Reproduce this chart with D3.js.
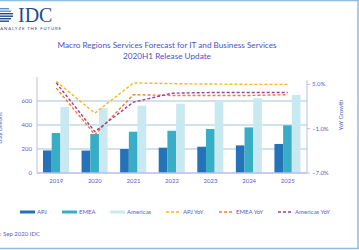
<!DOCTYPE html>
<html>
  <head>
    <meta charset="utf-8">
    <title>Macro Regions Services Forecast</title>
    <script src="https://cdn.jsdelivr.net/npm/d3@7/dist/d3.min.js"></script>
    <style>
      body { margin: 0; background: #fff; }
      svg { display: block; font-family: Lato, "Open Sans", sans-serif; }
      .tick-text { fill: #5b5bc8; font-size: 6px; }
    </style>
  </head>
  <body>
    <svg id="chart" width="359" height="250"></svg>
    <script>
    var years = ["2019", "2020", "2021", "2022", "2023", "2024", "2025"];
    var apj = [188, 187, 200, 211, 219, 230, 242];
    var emea = [333, 325, 344, 352, 367, 380, 397];
    var americas = [550, 540, 561, 577, 603, 622, 650];
    var apjYoY = [5.4, 1.1, 5.2, 5.1, 5.05, 5.0, 5.0];
    var emeaYoY = [4.5, -1.8, 3.6, 3.5, 3.5, 3.5, 3.6];
    var americasYoY = [5.2, -1.4, 2.6, 3.8, 3.9, 3.9, 3.9];
    var leftTicks = [0, 200, 400, 600];
    var rightTicks = [5, -1, -7];

    var barSeries = [
      {name: "APJ", values: apj, color: "#2472b8"},
      {name: "EMEA", values: emea, color: "#37adc6"},
      {name: "Americas", values: americas, color: "#c8e9f0"}
    ];
    var lineSeries = [
      {name: "APJ YoY", values: apjYoY, color: "#f6b91a"},
      {name: "EMEA YoY", values: emeaYoY, color: "#f07d32"},
      {name: "Americas YoY", values: americasYoY, color: "#9c3f9e"}
    ];

    var svg = d3.select("#chart");
    var textColor = "#5050c4";

    // frame
    svg.append("line").attr("x1", 0).attr("x2", 359).attr("y1", 0.5).attr("y2", 0.5)
      .attr("stroke", "#8dbde3").attr("stroke-width", 1.5);
    svg.append("line").attr("x1", 358).attr("x2", 358).attr("y1", 0).attr("y2", 249)
      .attr("stroke", "#8dbde3").attr("stroke-width", 1.5);
    svg.append("line").attr("x1", 0).attr("x2", 359).attr("y1", 248.5).attr("y2", 248.5)
      .attr("stroke", "#8dbde3").attr("stroke-width", 1.5);

    // logo
    var logo = svg.append("g");
    for (var k = 0; k < 6; k++) {
      logo.append("rect").attr("x", -4).attr("y", 8 + k * 2.5)
        .attr("width", 18 - Math.abs(k - 2.5) * 2).attr("height", 1.4)
        .attr("fill", k < 2 ? "#5f8fc8" : "#1e4b8a");
    }
    logo.append("text").attr("x", 18).attr("y", 22)
      .attr("font-family", "'Liberation Serif', serif").attr("font-size", 20)
      .attr("fill", "#1e4b8a").text("IDC");
    logo.append("text").attr("x", 62).attr("y", 30).attr("text-anchor", "end")
      .attr("font-size", 4.3).attr("letter-spacing", 0.9).attr("fill", "#1e4b8a")
      .text("ANALYZE THE FUTURE");

    // title
    svg.append("text").attr("x", 167).attr("y", 48).attr("text-anchor", "middle")
      .attr("font-size", 8.2).attr("fill", textColor)
      .text("Macro Regions Services Forecast for IT and Business Services");
    svg.append("text").attr("x", 167).attr("y", 59).attr("text-anchor", "middle")
      .attr("font-size", 8.2).attr("fill", textColor)
      .text("2020H1 Release Update");

    var plotLeft = 37, plotRight = 307, plotTop = 77, plotBottom = 173;

    var x0 = d3.scaleBand().domain(years).range([plotLeft, plotRight]).paddingInner(0).paddingOuter(0);
    var x1 = d3.scaleBand().domain(barSeries.map(function(d) { return d.name; }))
      .range([6, x0.bandwidth() - 6.5]).padding(0);
    var y = d3.scaleLinear().domain([0, 800]).range([plotBottom, plotTop]);
    var y2 = d3.scaleLinear().domain([-7, 6]).range([plotBottom, plotTop]);

    // gridlines
    svg.append("g").selectAll("line").data(leftTicks.slice(1)).enter().append("line")
      .attr("x1", plotLeft).attr("x2", plotRight)
      .attr("y1", function(d) { return y(d); }).attr("y2", function(d) { return y(d); })
      .attr("stroke", "#a8c3dc").attr("stroke-width", 1.2);

    // bars
    barSeries.forEach(function(s) {
      svg.append("g").selectAll("rect").data(s.values).enter().append("rect")
        .attr("x", function(d, i) { return x0(years[i]) + x1(s.name); })
        .attr("width", x1.bandwidth())
        .attr("y", function(d) { return y(d); })
        .attr("height", function(d) { return plotBottom - y(d); })
        .attr("fill", s.color);
    });

    // axes lines
    svg.append("line").attr("x1", plotLeft).attr("x2", plotLeft).attr("y1", plotTop).attr("y2", plotBottom)
      .attr("stroke", "#b9bdea").attr("stroke-width", 1);
    svg.append("line").attr("x1", plotRight).attr("x2", plotRight).attr("y1", plotTop + 3).attr("y2", plotBottom)
      .attr("stroke", "#b9bdea").attr("stroke-width", 1);
    svg.append("line").attr("x1", plotLeft).attr("x2", plotRight).attr("y1", plotBottom).attr("y2", plotBottom)
      .attr("stroke", "#b9bdea").attr("stroke-width", 1.5);

    // left ticks
    svg.append("g").selectAll("text").data(leftTicks).enter().append("text")
      .attr("class", "tick-text").attr("x", 32).attr("y", function(d) { return y(d) + 2; })
      .attr("text-anchor", "end").text(function(d) { return d; });

    // right ticks
    var rt = svg.append("g").selectAll("g").data(rightTicks).enter().append("g");
    rt.append("line").attr("x1", plotRight).attr("x2", plotRight + 3)
      .attr("y1", function(d) { return y2(d); }).attr("y2", function(d) { return y2(d); })
      .attr("stroke", "#b9bdea");
    rt.append("text").attr("class", "tick-text").attr("x", plotRight + 5)
      .attr("y", function(d) { return y2(d) + 2; })
      .text(function(d) { return d3.format(".1f")(d) + "%"; });

    // x labels
    svg.append("g").selectAll("text").data(years).enter().append("text")
      .attr("class", "tick-text").attr("text-anchor", "middle")
      .attr("x", function(d) { return x0(d) + x0.bandwidth() / 2; })
      .attr("y", 183).text(function(d) { return d; });

    // axis titles
    svg.append("text").attr("class", "tick-text").attr("text-anchor", "middle")
      .attr("transform", "translate(2,128) rotate(-90)").text("US$ Billions");
    svg.append("text").attr("class", "tick-text").attr("text-anchor", "middle")
      .attr("transform", "translate(343,115) rotate(-90)").text("YoY Growth");

    // lines
    var line = d3.line()
      .x(function(d, i) { return x0(years[i]) + x0.bandwidth() / 2; })
      .y(function(d) { return y2(d); });
    lineSeries.forEach(function(s) {
      svg.append("path").datum(s.values).attr("d", line)
        .attr("fill", "none").attr("stroke", s.color).attr("stroke-width", 1.4)
        .attr("stroke-dasharray", "3,2");
    });

    // legend
    var legendX = [20, 62, 110, 166, 219, 278];
    var legendItems = barSeries.concat(lineSeries);
    var lg = svg.append("g").selectAll("g").data(legendItems).enter().append("g")
      .attr("transform", function(d, i) { return "translate(" + legendX[i] + ",212)"; });
    lg.append("line").attr("x1", 0).attr("x2", function(d, i) { return i < 3 ? 15 : 13; })
      .attr("y1", 0).attr("y2", 0)
      .attr("stroke", function(d) { return d.color; })
      .attr("stroke-width", function(d, i) { return i < 3 ? 3 : 1.3; })
      .attr("stroke-dasharray", function(d, i) { return i < 3 ? null : "3,2"; });
    lg.append("text").attr("class", "tick-text").attr("x", 17)
      .attr("y", 2).text(function(d) { return d.name; });

    // source
    svg.append("text").attr("class", "tick-text").attr("x", 40).attr("y", 236)
      .attr("text-anchor", "end").text("Source: Sep 2020 IDC");
    </script>
  </body>
</html>
